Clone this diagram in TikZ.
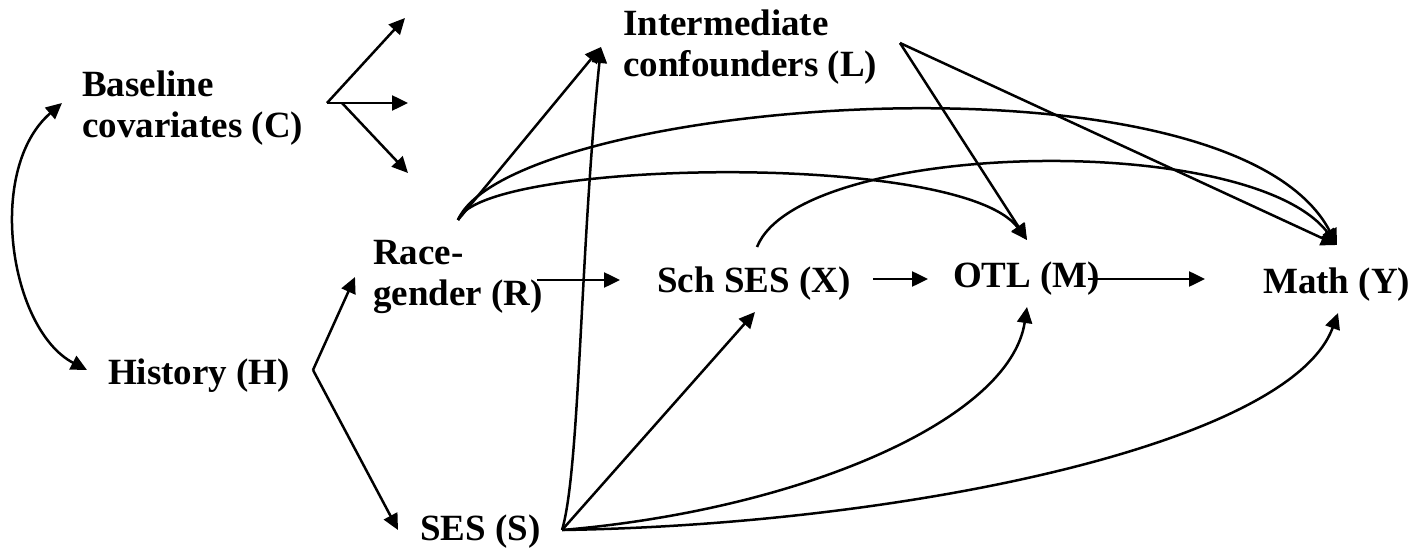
\documentclass[tikz,border=0pt]{standalone}
\usepackage{fontspec}
\setmainfont{Liberation Serif}
\usetikzlibrary{arrows.meta, positioning}
\tikzset{
	vartext/.style={font=\fontsize{37}{41}\selectfont\bfseries, inner sep=0pt, anchor=base west, align=left}
}
\tikzset{
	link/.style={line width=2.5pt, -{Triangle[length=16pt,width=15pt]}},
	twolink/.style={line width=2.5pt, {Triangle[length=16pt,width=15pt]}-{Triangle[length=16pt,width=15pt]}}
}

\begin{document}
\begin{tikzpicture}[x=1pt,y=-1pt]
      \useasboundingbox (0,0) rectangle (1416,556);
      \node[vartext] (base) at (82,138) {Baseline\\covariates (C)};
      \node[vartext] (inter) at (623,77) {Intermediate\\confounders (L)};
      \node[vartext] (race) at (373,305) {Race-\\gender (R)};
      \node[vartext] (hist) at (108,384) {History (H)};
      \node[vartext] (ses) at (420,540) {SES (S)};
      \node[vartext] (sch) at (657,292) {Sch SES (X)};
      \node[vartext] (otl) at (953,287) {OTL (M)};
      \node[vartext] (math) at (1263,293) {Math (Y)};
      % points where the arrows leave or meet the labels
      \coordinate (cfork) at ([shift={(245,-35)}]base.base west);
      \coordinate (hfork) at ([shift={(205,-14)}]hist.base west);
      \coordinate (sfork) at ([shift={(142,-10)}]ses.base west);
      \coordinate (lfork) at ([shift={(277,-34)}]inter.base west);
      \coordinate (rtop) at ([shift={(85,-85)}]race.base west);
      \coordinate (schtop) at ([shift={(100,-45)}]sch.base west);
      \coordinate (schbot) at ([shift={(98,20)}]sch.base west);
      \coordinate (otltop) at ([shift={(74,-47)}]otl.base west);
      \coordinate (otlbot) at ([shift={(74,20)}]otl.base west);
      \coordinate (mathtop) at ([shift={(74,-48)}]math.base west);
      \coordinate (mathbot) at ([shift={(75,20)}]math.base west);
      \coordinate (intertip) at ([shift={(-22,-30)}]inter.base west);
      % baseline covariates point at everything after them
      \foreach \n/\dx/\dy/\sx in {1/78/-85/0, 2/81/0/0, 3/81/70/15} {
        \coordinate (cend\n) at ([shift={(\dx,\dy)}]cfork);
        \draw[link] ([shift={(\sx,0)}]cfork) -- (cend\n);
      }
      \draw[twolink] ([shift={(-20,-35)}]base.base west) .. controls (-15,170) and (10,330) .. ([shift={(-21,-14)}]hist.base west);
      % history -> race-gender, ses
      \draw[link] (hfork) -- ([shift={(-18,-28)}]race.base west);
      \draw[link] (hfork) -- ([shift={(-22,-10)}]ses.base west);
      % main chain R -> X -> M -> Y
      \draw[link] ([shift={(164,-25)}]race.base west) -- ([shift={(-37,-12)}]sch.base west);
      \draw[link] ([shift={(216,-13)}]sch.base west) -- ([shift={(-25,-8)}]otl.base west);
      \draw[link] ([shift={(135,-8)}]otl.base west) -- ([shift={(-58,-14)}]math.base west);
      % from ses
      \draw[link] (sfork) .. controls (580,470) and (580,250) .. (intertip);
      \draw[link] (sfork) -- (schbot);
      \draw[link] (sfork) .. controls (800,510) and (1010,420) .. (otlbot);
      \draw[link] (sfork) .. controls (900,525) and (1290,445) .. (mathbot);
      % from race-gender
      \draw[link] (rtop) -- (intertip);
      \draw[link] (rtop) .. controls (480,160) and (960,150) .. (otltop);
      \draw[link] (rtop) .. controls (510,100) and (1230,40) .. (mathtop);
      % from school ses and intermediate confounders
      \draw[link] (schtop) .. controls (800,140) and (1250,130) .. (mathtop);
      \draw[link] (lfork) -- (otltop);
      \draw[link] (lfork) -- (mathtop);
    \end{tikzpicture}
\end{document}
